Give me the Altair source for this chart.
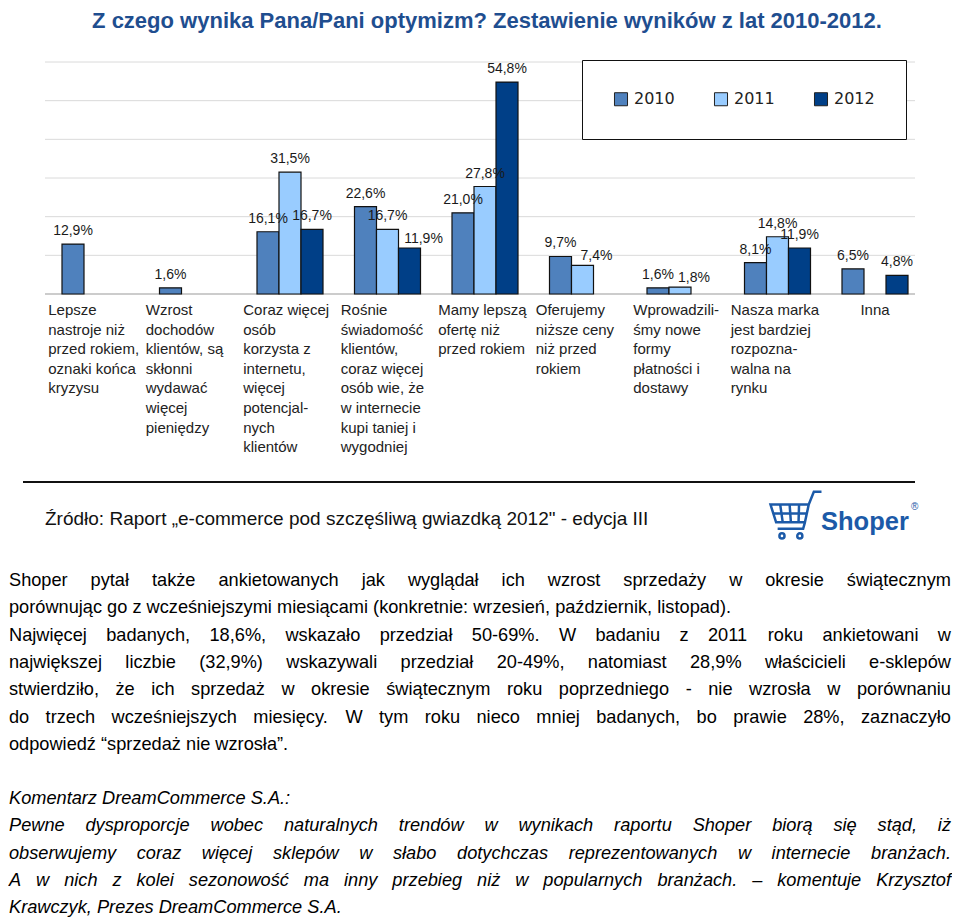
import altair as alt
import pandas as pd

# ---------------- data ----------------
title_text = "Z czego wynika Pana/Pani optymizm? Zestawienie wyników z lat 2010-2012."

categories = ["Lepsze", "Wzrost", "Coraz", "Rośnie", "Mamy", "Oferujemy", "Wprowadziliśmy", "Nasza", "Inna"]
category_lines = [
    ["Lepsze", "nastroje niż", "przed rokiem,", "oznaki końca", "kryzysu"],
    ["Wzrost", "dochodów", "klientów, są", "skłonni", "wydawać", "więcej", "pieniędzy"],
    ["Coraz więcej", "osób", "korzysta z", "internetu,", "więcej", "potencjal-", "nych", "klientów"],
    ["Rośnie", "świadomość", "klientów,", "coraz więcej", "osób wie, że", "w internecie", "kupi taniej i", "wygodniej"],
    ["Mamy lepszą", "ofertę niż", "przed rokiem"],
    ["Oferujemy", "niższe ceny", "niż przed", "rokiem"],
    ["Wprowadzili-", "śmy nowe", "formy", "płatności i", "dostawy"],
    ["Nasza marka", "jest bardziej", "rozpozna-", "walna na", "rynku"],
    ["Inna"],
]
years = ["2010", "2011", "2012"]
v2010 = [12.9, 1.6, 16.1, 22.6, 21.0, 9.7, 1.6, 8.1, 6.5]
v2011 = [None, None, 31.5, 16.7, 27.8, 7.4, 1.8, 14.8, None]
v2012 = [None, None, 16.7, 11.9, 54.8, None, None, 11.9, 4.8]
year_colors = ["#4F81BD", "#99CCFF", "#003F87"]
grid_values = [10, 20, 30, 40, 50, 60]

source_text = "Źródło: Raport „e-commerce pod szczęśliwą gwiazdką 2012\" - edycja III"
logo_text = "Shoper"

para1 = [
    "Shoper pytał także ankietowanych jak wyglądał ich wzrost sprzedaży w okresie świątecznym",
    "porównując go z wcześniejszymi miesiącami (konkretnie: wrzesień,  październik, listopad).",
    "Najwięcej badanych, 18,6%, wskazało przedział 50-69%. W badaniu z 2011 roku ankietowani w",
    "największej liczbie (32,9%) wskazywali przedział 20-49%, natomiast 28,9% właścicieli e-sklepów",
    "stwierdziło, że ich sprzedaż w okresie świątecznym roku poprzedniego - nie wzrosła w porównaniu",
    "do trzech wcześniejszych miesięcy. W tym roku nieco mniej badanych, bo prawie 28%, zaznaczyło",
    "odpowiedź “sprzedaż nie wzrosła”.",
]
para1_justified = [True, False, True, True, True, True, False]
para2 = [
    "Komentarz DreamCommerce S.A.:",
    "Pewne dysproporcje wobec naturalnych trendów w wynikach raportu Shoper biorą się stąd, iż",
    "obserwujemy coraz więcej sklepów w słabo dotychczas reprezentowanych w internecie branżach.",
    "A w nich z kolei sezonowość ma inny przebieg niż w popularnych branżach. – komentuje Krzysztof",
    "Krawczyk, Prezes DreamCommerce S.A.",
]
para2_justified = [False, True, True, True, False]

# ---------------- layout helpers (Arial / Liberation Sans advance widths, 1/1000 em) ----------------
ADV = {ch: 556 for ch in "abdeghnopqu0123456789ąęńó–"}
ADV.update({ch: 500 for ch in "cksvxyzćśźżJ"})
ADV.update({ch: 222 for ch in "ijlł"})
ADV.update({ch: 278 for ch in " ft,.:;/I!"})
ADV.update({ch: 333 for ch in "r-()“”„"})
ADV.update({"m": 833, "w": 722, "%": 889, '"': 355, "M": 833, "W": 944})
ADV.update({ch: 667 for ch in "ABEKPSVXYŚ"})
ADV.update({ch: 722 for ch in "CDHNRU"})
ADV.update({ch: 611 for ch in "FTZŹŻ"})
ADV.update({ch: 778 for ch in "GOQ"})
ADV.update({"L": 556, "Ł": 556})


def text_w(s, size):
    return sum(ADV.get(ch, 556) for ch in s) * size / 1000.0


X0, Y0 = 46.25, 62   # plot origin on the page
W, H = 877.5, 232
SVG_W = 944          # page is 960 wide with an 8px margin on each side
GRID_L, GRID_R = 45 - X0, 915 - X0
BODY_SIZE = 18.2
BODY_LEFT, BODY_RIGHT = 9 - X0, 951 - X0


def layout(lines, justified, first_baseline, line_h):
    out = []
    for i, (line, just) in enumerate(zip(lines, justified)):
        words = line.split()
        widths = [text_w(w, BODY_SIZE) for w in words]
        if just and len(words) > 1:
            gap = (BODY_RIGHT - BODY_LEFT - sum(widths)) / (len(words) - 1)
        else:
            gap = text_w(" ", BODY_SIZE)
        x = BODY_LEFT
        for w, wd in zip(words, widths):
            out.append({"word": w, "x": x, "y": first_baseline + i * line_h})
            x += wd + gap
    return pd.DataFrame(out)


# ---------------- tables ----------------
rows = []
for yr, vals in zip(years, [v2010, v2011, v2012]):
    for cat, v in zip(categories, vals):
        if v is not None:
            rows.append({"category": cat, "year": yr, "value": v})
bars_df = pd.DataFrame(rows)
labels_df = pd.DataFrame({"category": categories, "label": ["\n".join(l) for l in category_lines]})
grid_df = pd.DataFrame({"g": grid_values})
body1_df = layout(para1, para1_justified, 586 - Y0, 27.3)
body2_df = layout(para2, para2_justified, 804 - Y0, 27.25)

x_scale = alt.Scale(domain=categories, paddingInner=0.323, paddingOuter=0.1615)
xo_scale = alt.Scale(domain=years, paddingInner=0, paddingOuter=0)
y_scale = alt.Scale(domain=[0, 60], nice=False)

X = alt.X("category:N", scale=x_scale, axis=None)
XO = alt.XOffset("year:N", scale=xo_scale)

grid = alt.Chart(grid_df).mark_rule(color="#dadada", strokeWidth=1).encode(
    y=alt.Y("g:Q", scale=y_scale, axis=None), x=alt.value(GRID_L), x2=alt.value(GRID_R)
)

baseline = alt.Chart(alt.Data(values=[{"v": 0}])).mark_rule(color="#9a9a9a", strokeWidth=1.2).encode(
    y=alt.Y("v:Q", scale=y_scale, axis=None), x=alt.value(GRID_L), x2=alt.value(GRID_R)
)

base = alt.Chart(bars_df)

bars = base.mark_bar(stroke="#111111", strokeWidth=1.2).encode(
    x=X,
    xOffset=XO,
    y=alt.Y("value:Q", scale=y_scale, axis=None),
    color=alt.Color(
        "year:N",
        scale=alt.Scale(domain=years, range=year_colors),
        legend=alt.Legend(
            title=None, orient="none", legendX=582 - X0, legendY=60 - Y0, direction="horizontal",
            symbolType="square", symbolSize=170, symbolStrokeColor="#222222", symbolStrokeWidth=1,
            labelFont="DejaVu Sans", labelFontSize=16, labelColor="#222222", labelOffset=5,
            columnPadding=37, padding=31, strokeColor="#111111", fillColor="white",
        ),
    ),
)

# labels that the original nudges to the right of their bar
nudged = "(datum.category == 'Rośnie' && datum.year == '2012') || " \
         "(datum.category == 'Oferujemy' && datum.year == '2011') || " \
         "(datum.category == 'Wprowadziliśmy' && datum.year == '2011')"

lbl_base = base.transform_calculate(
    lbl="replace(format(datum.value, '.1f'), '.', ',') + '%'"
)
value_text = lbl_base.transform_filter("!(" + nudged + ")").mark_text(
    baseline="alphabetic", dy=-9, fontSize=14, font="Liberation Sans", color="#1a1a1a"
).encode(x=X, xOffset=XO, y=alt.Y("value:Q", scale=y_scale, axis=None), text="lbl:N")

value_text_nudged = lbl_base.transform_filter(nudged).mark_text(
    baseline="alphabetic", dx=14, dy=-5, fontSize=14, font="Liberation Sans", color="#1a1a1a"
).encode(x=X, xOffset=XO, y=alt.Y("value:Q", scale=y_scale, axis=None), text="lbl:N")

cat_text = alt.Chart(labels_df).transform_filter("datum.category != 'Inna'").mark_text(
    align="left", baseline="alphabetic", dx=-46.75, fontSize=15, lineHeight=19.6, lineBreak="\n",
    font="Liberation Sans", color="#222222"
).encode(x=X, y=alt.value(253), text="label:N")

inna_text = alt.Chart(labels_df).transform_filter("datum.category == 'Inna'").mark_text(
    align="center", baseline="alphabetic", fontSize=15, font="Liberation Sans", color="#222222"
).encode(x=X, y=alt.value(253), text="label:N")

title = alt.Chart(alt.Data(values=[{"t": title_text}])).mark_text(
    align="center", baseline="alphabetic", font="Liberation Sans", fontWeight="bold",
    fontSize=22, color="#1F4E8F"
).encode(x=alt.value(487 - X0), y=alt.value(28 - Y0), text="t:N")

sep_rule = alt.Chart(alt.Data(values=[{"v": 0}])).mark_rule(color="#111111", strokeWidth=2).encode(
    x=alt.value(23 - X0), x2=alt.value(915 - X0), y=alt.value(482 - Y0)
)

source = alt.Chart(alt.Data(values=[{"t": source_text}])).mark_text(
    align="left", baseline="alphabetic", font="Liberation Sans", fontSize=19, color="#111111"
).encode(x=alt.value(45 - X0), y=alt.value(525 - Y0), text="t:N")

logo = alt.Chart(alt.Data(values=[{"t": logo_text}])).mark_text(
    align="left", baseline="alphabetic", font="Liberation Sans", fontWeight="bold",
    fontSize=25.5, color="#1C5AA8"
).encode(x=alt.value(821 - X0), y=alt.value(530 - Y0), text="t:N")

logo_r = alt.Chart(alt.Data(values=[{"t": "®"}])).mark_text(
    align="left", baseline="alphabetic", font="Liberation Sans", fontSize=10, color="#1C5AA8"
).encode(x=alt.value(911 - X0), y=alt.value(510 - Y0), text="t:N")

cart_path = (
    "M-1,-0.45 L0.5,-0.45 L0.35,0.25 L-0.78,0.25 Z "
    "M-0.62,-0.45 L-0.52,0.25 M-0.25,-0.45 L-0.2,0.25 M0.12,-0.45 L0.1,0.25 "
    "M-0.9,-0.1 L0.43,-0.1 "
    "M0.5,-0.45 L0.7,-0.95 L1,-0.95 "
    "M0.35,0.25 L0.28,0.5 L-0.72,0.5 "
    "M-0.65,0.78 a0.1,0.1 0 1,0 0.2,0 a0.1,0.1 0 1,0 -0.2,0 "
    "M0.05,0.78 a0.1,0.1 0 1,0 0.2,0 a0.1,0.1 0 1,0 -0.2,0"
)
cart = alt.Chart(alt.Data(values=[{"v": 0}])).mark_point(
    shape=cart_path, filled=False, stroke="#1C5AA8", strokeWidth=2.5, opacity=1
).encode(x=alt.value(796 - X0), y=alt.value(516 - Y0), size=alt.value(2600))

body1 = alt.Chart(body1_df).mark_text(
    align="left", baseline="alphabetic", font="Liberation Sans", fontSize=BODY_SIZE, color="#000000"
).encode(x=alt.X("x:Q", scale=None, axis=None), y=alt.Y("y:Q", scale=None, axis=None), text="word:N")

body2 = alt.Chart(body2_df).mark_text(
    align="left", baseline="alphabetic", font="Liberation Sans", fontSize=BODY_SIZE, fontStyle="italic",
    color="#000000"
).encode(x=alt.X("x:Q", scale=None, axis=None), y=alt.Y("y:Q", scale=None, axis=None), text="word:N")

chart = alt.layer(
    grid, baseline, bars, value_text, value_text_nudged, cat_text, inna_text, title, sep_rule,
    source, logo, logo_r, cart, body1, body2
).resolve_scale(
    x="independent", y="independent"
).properties(
    width=W, height=H,
    autosize=alt.AutoSizeParams(type="none"),
    padding={"left": X0 - 8, "top": Y0 - 8, "right": SVG_W - (X0 - 8) - W, "bottom": 625},
).configure_view(stroke=None)

chart.save("out.html", embed_options={"renderer": "svg", "actions": False})
